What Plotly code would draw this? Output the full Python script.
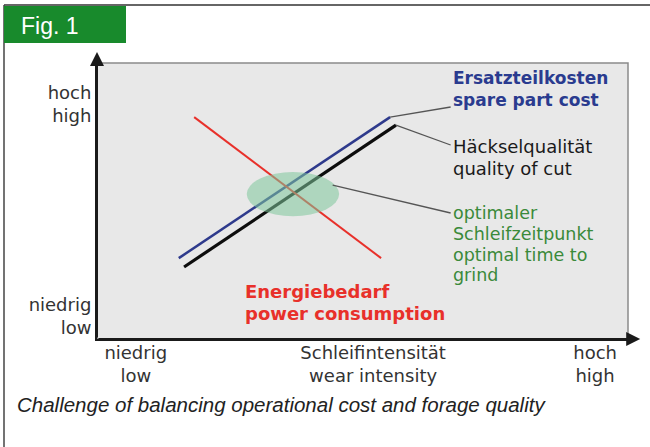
import plotly.graph_objects as go

# ---- data (conceptual units, 0..100 on both axes) ----
energy_x = [18.3, 53.5]
energy_y = [80.4, 29.3]
spare_x = [15.4, 55.2]
spare_y = [29.3, 80.4]
quality_x = [16.4, 56.3]
quality_y = [26.1, 77.5]
optimum_center = [36.9, 52.5]
optimum_radius = [8.7, 8.0]

x_tickvals = [7.3, 52.0, 93.8]
x_ticktext = ["niedrig<br>low", "Schleifintensität<br>wear intensity", "hoch<br>high"]
y_tickvals = [8.3, 85.1]
y_ticktext = ["niedrig<br>low", "hoch<br>high"]

spare_lines = ["Ersatzteilkosten", "spare part cost"]
quality_lines = ["Häckselqualität", "quality of cut"]
optimum_lines = ["optimaler", "Schleifzeitpunkt", "optimal time to", "grind"]
energy_lines = ["Energiebedarf", "power consumption"]
caption = "Challenge of balancing operational cost and forage quality"
fig_tag = "Fig. 1"

W, H = 650, 447
FONT = "Liberation Sans, Arial, sans-serif"
LFONT = "DejaVu Sans, Verdana, sans-serif"

def py(pix):  # pixel row -> data y
    return (339 - pix) / 2.76

fig = go.Figure()
fig.add_trace(go.Scatter(x=spare_x, y=spare_y, mode="lines",
                         line=dict(color="#2e3a8c", width=2.5), hoverinfo="skip"))
fig.add_trace(go.Scatter(x=quality_x, y=quality_y, mode="lines",
                         line=dict(color="#0d0d0d", width=3.2), hoverinfo="skip"))
fig.add_trace(go.Scatter(x=energy_x, y=energy_y, mode="lines",
                         line=dict(color="#e8302a", width=2), hoverinfo="skip"))

label_x = 66.6
shapes = []
# figure frame
shapes.append(dict(type="line", xref="paper", yref="paper", x0=4/W, x1=1, y0=1-5/H, y1=1-5/H,
                   line=dict(color="#666666", width=2)))
shapes.append(dict(type="line", xref="paper", yref="paper", x0=4/W, x1=4/W, y0=0, y1=1-5/H,
                   line=dict(color="#444444", width=1.5)))
# green tag
shapes.append(dict(type="rect", xref="paper", yref="paper", x0=4/W, x1=126/W, y0=1-43/H, y1=1-6/H,
                   fillcolor="#188a2c", line=dict(width=0)))
# plot area background
shapes.append(dict(type="rect", xref="x domain", yref="y domain", x0=0, x1=1, y0=0, y1=1,
                   fillcolor="#e8e8e8", line=dict(color="#8a8a8a", width=1.5), layer="below"))
# optimum ellipse
cx, cy = optimum_center
rx, ry = optimum_radius
shapes.append(dict(type="circle", xref="x", yref="y", x0=cx-rx, x1=cx+rx, y0=cy-ry, y1=cy+ry,
                   fillcolor="rgba(125,198,155,0.55)", line=dict(width=0), layer="above"))
# leader lines
lead = dict(color="#555555", width=1.3)
shapes.append(dict(type="line", xref="x", yref="y", x0=spare_x[-1], y0=spare_y[-1],
                   x1=label_x, y1=py(107), line=lead))
shapes.append(dict(type="line", xref="x", yref="y", x0=quality_x[-1], y0=quality_y[-1],
                   x1=label_x, y1=py(145), line=lead))
shapes.append(dict(type="line", xref="x", yref="y", x0=cx+rx*0.86, y0=cy+ry*0.41,
                   x1=label_x, y1=py(213), line=lead))

ann = []
def lab(lines, rows, color, size, bold=False, x=label_x):
    for t, r in zip(lines, rows):
        ann.append(dict(x=x, y=py(r), xref="x", yref="y",
                        text=("<b>%s</b>" % t) if bold else t, showarrow=False,
                        xanchor="left", yanchor="middle", align="left",
                        font=dict(family=LFONT, size=size, color=color)))
lab(spare_lines, [78, 100], "#2a3b8f", 17, bold=True)
lab(quality_lines, [146, 168], "#1a1a1a", 18)
lab(optimum_lines, [213, 234, 255, 275], "#3a8a3a", 17.5)
lab(energy_lines, [291, 313], "#e8302a", 18, bold=True, x=(243 - 97) / 5.31)

# axis arrows
ann.append(dict(x=102.3, y=0, ax=0, ay=0, xref="x", yref="y", axref="x", ayref="y",
                showarrow=True, arrowhead=2, arrowsize=1.4, arrowwidth=2, arrowcolor="#1a1a1a",
                text="", standoff=0))
ann.append(dict(x=0, y=104.0, ax=0, ay=0, xref="x", yref="y", axref="x", ayref="y",
                showarrow=True, arrowhead=2, arrowsize=1.4, arrowwidth=2, arrowcolor="#1a1a1a",
                text="", standoff=0))
# tag text and caption
ann.append(dict(x=50/W, y=1-26/H, xref="paper", yref="paper", text=fig_tag, showarrow=False,
                xanchor="center", yanchor="middle",
                font=dict(family=FONT, size=23, color="white")))
ann.append(dict(x=15/W, y=1-404/H, xref="paper", yref="paper", text="<i>"+caption+"</i>",
                showarrow=False, xanchor="left", yanchor="middle",
                font=dict(family=FONT, size=20.5, color="#222222")))

fig.update_layout(
    width=W, height=H, margin=dict(l=0, r=0, t=0, b=0),
    paper_bgcolor="white", plot_bgcolor="rgba(0,0,0,0)",
    showlegend=False, shapes=shapes, annotations=ann,
    xaxis=dict(domain=[97/W, 628/W], range=[0, 100], showgrid=False, zeroline=False,
               showline=True, linecolor="#1a1a1a", linewidth=2,
               tickvals=x_tickvals, ticktext=x_ticktext, ticks="", ticklabelstandoff=-4,
               tickfont=dict(family=LFONT, size=18, color="#333333"), fixedrange=True),
    yaxis=dict(domain=[1-339/H, 1-63/H], range=[0, 100], showgrid=False, zeroline=False,
               showline=True, linecolor="#1a1a1a", linewidth=2,
               tickvals=y_tickvals, ticktext=y_ticktext, ticks="",
               tickfont=dict(family=LFONT, size=18, color="#333333"), fixedrange=True),
)

fig.write_html("out.html", config={"displayModeBar": False},
               post_script="document.body.style.margin='0';document.body.style.overflow='hidden';")
